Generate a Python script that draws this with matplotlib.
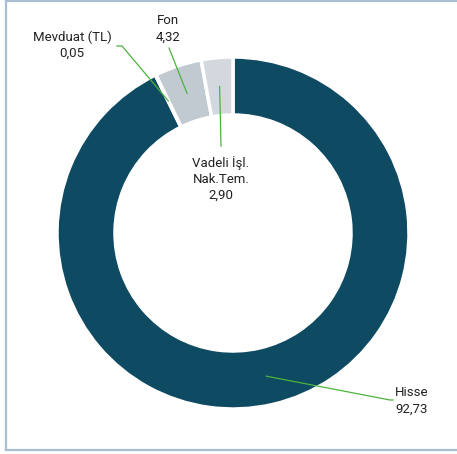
import math

import matplotlib.pyplot as plt
from matplotlib.lines import Line2D

# portfolio split, clockwise from 12 o'clock
labels = ["Hisse", "Mevduat (TL)", "Fon", "Vadeli İşl.\nNak.Tem."]
values = [92.73, 0.05, 4.32, 2.90]
colors = ["#0f4a63", "#a7b4c0", "#c1c9d1", "#d3d8de"]

# label placement in pixel coords (x, y from top) and leader elbow, layout only
text_pos = [(412, 401), (72, 45), (168, 29), (221, 179)]
line_end = [(393, 400), (117, 46), (169, 48), (221, 146)]
elbow = [(390, 400), (122, 46), None, None]

W, H = 457, 454
cx, cy = 233, 233
r_out, ring = 176, 58

fig = plt.figure(figsize=(W / 100, H / 100), dpi=100)
ax = fig.add_axes([0, 0, 1, 1])
ax.set_xlim(0, W)
ax.set_ylim(0, H)
ax.set_aspect("equal")
ax.axis("off")

ax.pie(
    values,
    colors=colors,
    startangle=90,
    counterclock=False,
    radius=r_out,
    center=(cx, H - cy),
    wedgeprops=dict(width=ring, edgecolor="white", linewidth=2.5),
    frame=True,
)
ax.set_xlim(0, W)
ax.set_ylim(0, H)
ax.axis("off")

green = "#4db33d"
total = sum(values)
acc = 0.0
r_mid = r_out - ring / 2
for i, v in enumerate(values):
    mid = 90 - (acc + v / 2) / total * 360
    acc += v
    ax_x = cx + r_mid * math.cos(math.radians(mid))
    ax_y = H - cy + r_mid * math.sin(math.radians(mid))
    pts = [(ax_x, ax_y)]
    if elbow[i]:
        pts.append((elbow[i][0], H - elbow[i][1]))
    pts.append((line_end[i][0], H - line_end[i][1]))
    xs, ys = zip(*pts)
    ax.add_line(Line2D(xs, ys, color=green, linewidth=0.9))
    txt = labels[i] + "\n" + f"{v:.2f}".replace(".", ",")
    ax.text(text_pos[i][0], H - text_pos[i][1], txt, ha="center", va="center",
            fontsize=9.5, family="Roboto", color="#222222", linespacing=1.3)

# outer frame
frame_c = "#a9bdd3"
ax.add_line(Line2D([5.5, 5.5], [H - 1, H - 449.5], color=frame_c, linewidth=1.6))
ax.add_line(Line2D([5.5, W], [H - 1, H - 1], color=frame_c, linewidth=1.6))
ax.add_line(Line2D([5.5, W], [H - 449.5, H - 449.5], color=frame_c, linewidth=1.6))

fig.savefig("out.png", dpi=100)
